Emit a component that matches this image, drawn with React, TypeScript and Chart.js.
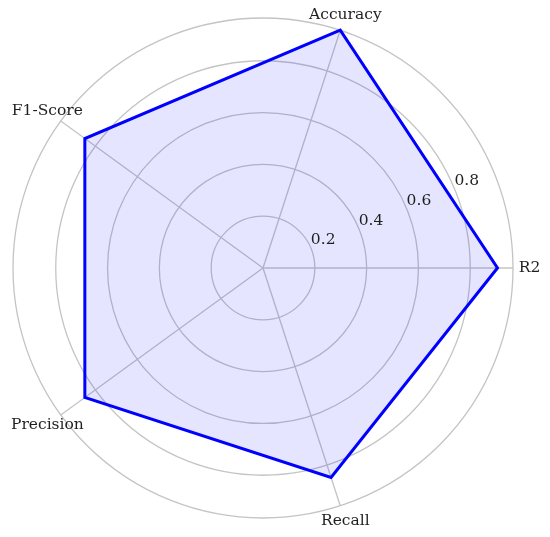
import React, { useEffect, useRef } from "react";
import { Chart, registerables } from "chart.js";

Chart.register(...registerables);

// Chart.js radar goes clockwise from startAngle (90 = east)
const categories = ["R2", "Recall", "Precision", "F1-Score", "Accuracy"];
const scores = [0.905, 0.85, 0.85, 0.85, 0.965];
const radialTicks = [0.2, 0.4, 0.6, 0.8];
const radialMax = 0.965;

const FONT = "'DejaVu Serif', serif";
const TEXT_COLOR = "#1f1f1f";

const labelsPlugin = {
  id: "mplLabels",
  afterDraw(chart: any) {
    const scale = chart.scales.r;
    const ctx = chart.ctx;
    ctx.save();
    ctx.fillStyle = TEXT_COLOR;
    ctx.font = `15.5px ${FONT}`;
    // radial tick labels at 22.5 degrees (matplotlib default)
    const a = (22.5 * Math.PI) / 180;
    ctx.textAlign = "left";
    ctx.textBaseline = "bottom";
    radialTicks.forEach((t) => {
      const d = scale.getDistanceFromCenterForValue(t);
      const x = scale.xCenter + Math.cos(a) * d;
      const y = scale.yCenter - Math.sin(a) * d;
      ctx.fillText(String(t), x, y);
    });
    // category labels
    ctx.textAlign = "center";
    ctx.textBaseline = "middle";
    categories.forEach((c, i) => {
      const p = scale.getPointPosition(i, scale.drawingArea + 16.5);
      ctx.fillText(c, p.x, p.y);
    });
    ctx.restore();
  },
};

export default function App() {
  const ref = useRef<HTMLCanvasElement | null>(null);
  useEffect(() => {
    if (!ref.current) return;
    const chart = new Chart(ref.current, {
      type: "radar",
      data: {
        labels: categories,
        datasets: [
          {
            data: scores,
            borderColor: "#0000ff",
            backgroundColor: "rgba(0,0,255,0.1)",
            borderWidth: 3,
            pointRadius: 0,
            pointHoverRadius: 0,
            fill: true,
            tension: 0,
          },
        ],
      },
      options: {
        animation: false,
        responsive: true,
        maintainAspectRatio: false,
        layout: { padding: { left: 13, top: 18, right: 37, bottom: 19 } },
        plugins: { legend: { display: false }, tooltip: { enabled: false } },
        scales: {
          r: {
            min: 0,
            max: radialMax,
            startAngle: 90,
            ticks: { display: false, stepSize: 0.2 },
            grid: { color: "#c4c4c4", lineWidth: 1.3, circular: true },
            angleLines: { color: "#c4c4c4", lineWidth: 1.3 },
            pointLabels: { display: false },
          },
        },
      },
      plugins: [labelsPlugin],
    });
    return () => chart.destroy();
  }, []);
  return (
    <div style={{ position: "fixed", left: 0, top: 0, width: 550, height: 537, background: "#fff" }}>
      <canvas ref={ref} />
    </div>
  );
}
